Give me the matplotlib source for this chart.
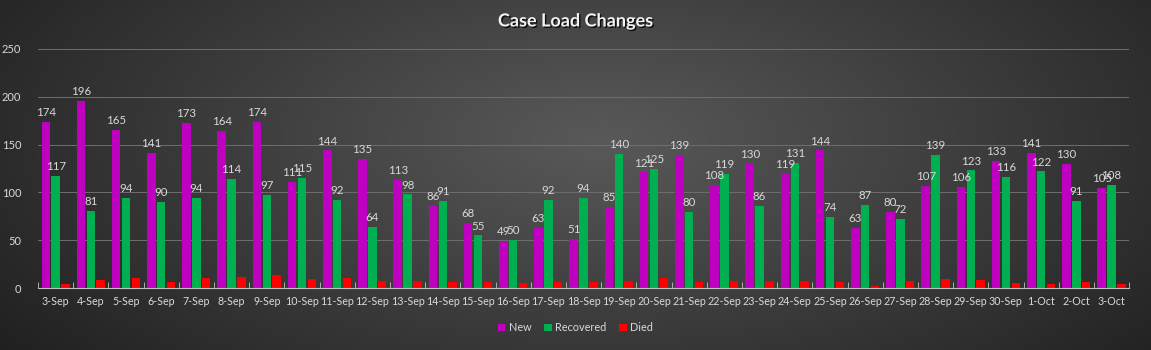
import numpy as np
import matplotlib
matplotlib.use("Agg")
import matplotlib.pyplot as plt
import matplotlib.patheffects as pe

dates = ["3-Sep", "4-Sep", "5-Sep", "6-Sep", "7-Sep", "8-Sep", "9-Sep", "10-Sep", "11-Sep", "12-Sep",
         "13-Sep", "14-Sep", "15-Sep", "16-Sep", "17-Sep", "18-Sep", "19-Sep", "20-Sep", "21-Sep", "22-Sep",
         "23-Sep", "24-Sep", "25-Sep", "26-Sep", "27-Sep", "28-Sep", "29-Sep", "30-Sep", "1-Oct", "2-Oct", "3-Oct"]
new = [174, 196, 165, 141, 173, 164, 174, 111, 144, 135,
       113, 86, 68, 49, 63, 51, 85, 121, 139, 108,
       130, 119, 144, 63, 80, 107, 106, 133, 141, 130, 105]
recovered = [117, 81, 94, 90, 94, 114, 97, 115, 92, 64,
             98, 91, 55, 50, 92, 94, 140, 125, 80, 119,
             86, 131, 74, 87, 72, 139, 123, 116, 122, 91, 108]
died = [4, 8, 10, 6, 11, 12, 14, 9, 10, 7,
        7, 6, 6, 5, 6, 6, 7, 10, 6, 7,
        7, 7, 6, 2, 7, 9, 8, 5, 4, 6, 4]

plt.rcParams['font.family'] = ['Lato', 'DejaVu Sans']

fig = plt.figure(figsize=(11.51, 3.5), dpi=100)

# radial gradient background
bg = fig.add_axes([0, 0, 1, 1], zorder=-10)
yy, xx = np.mgrid[0:350, 0:1151]
r = np.sqrt(((xx - 600) / 700.0) ** 2 + ((yy - 140) / 330.0) ** 2)
shade = np.clip(0.35 - 0.21 * r, 0.12, 0.35)
bg.imshow(np.dstack([shade, shade, shade]), aspect="auto", extent=[0, 1, 0, 1])
bg.axis("off")

ax = fig.add_axes([0.033, 0.177, 0.948, 0.683])
ax.set_facecolor("none")
x = np.arange(len(dates))
w = 0.24
off = 0.28
b1 = ax.bar(x - off, new, w, color="#C000C0", label="New")
b2 = ax.bar(x, recovered, w, color="#00B050", label="Recovered")
b3 = ax.bar(x + off, died, w, color="#FF0000", label="Died")

for bars, vals in [(b1, new), (b2, recovered)]:
    for b, v in zip(bars, vals):
        ax.text(b.get_x() + b.get_width() / 2, v + 4, str(v), ha="center", va="bottom",
                fontsize=8.3, color="#D9D9D9")

ax.set_xlim(-0.5, len(dates) - 0.5)
ax.set_ylim(0, 250)
ax.set_yticks([0, 50, 100, 150, 200, 250])
ax.set_xticks(x)
ax.set_xticklabels(dates)
ax.tick_params(axis="x", colors="#D9D9D9", labelsize=7.7, length=0, pad=6)
ax.tick_params(axis="y", colors="#D9D9D9", labelsize=8, length=0, pad=12)
ax.set_xticks(np.arange(-0.5, len(dates), 1), minor=True)
ax.tick_params(axis="x", which="minor", length=4, color="#BFBFBF", direction="in")
ax.grid(axis="y", color="#6E6E6E", linewidth=0.7)
ax.set_axisbelow(True)
for s in ["top", "right", "left"]:
    ax.spines[s].set_visible(False)
ax.spines["bottom"].set_color("#BFBFBF")

fig.text(0.5, 0.94, "Case Load Changes", ha="center", va="center", fontsize=13,
         fontweight="bold", color="#F2F2F2",
         path_effects=[pe.withSimplePatchShadow(offset=(1, -1), shadow_rgbFace="black", alpha=0.8)])

leg = fig.legend(loc="center", bbox_to_anchor=(0.5, 0.063), ncol=3, frameon=False,
                 fontsize=7.8, handlelength=0.7, handleheight=0.7, handletextpad=0.3,
                 columnspacing=1.2, labelcolor="#D9D9D9")

fig.savefig("out.png", dpi=100)
